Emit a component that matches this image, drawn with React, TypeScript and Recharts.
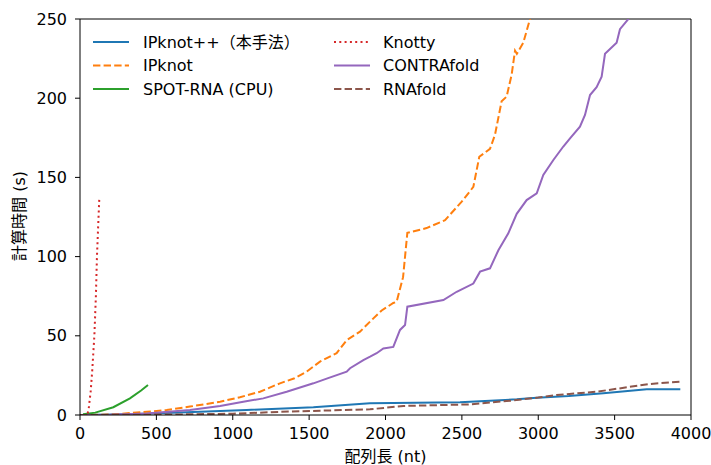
import React from 'react';
import { LineChart, Line, XAxis, YAxis, ReferenceLine } from 'recharts';

const xTicks = [0, 500, 1000, 1500, 2000, 2500, 3000, 3500, 4000];
const yTicks = [0, 50, 100, 150, 200, 250];

const ipknotPP = [
  [0, 0], [300, 0.5], [655, 1.5], [1091, 3.2], [1528, 4.9], [1898, 7.4], [2200, 7.7],
  [2488, 8], [2859, 9.9], [2990, 10.9], [3200, 12], [3426, 13.7], [3710, 16.2], [3930, 16.2],
];
const ipknot = [
  [0, 0], [200, 0.3], [437, 2], [567, 3.2], [720, 5.3], [917, 8.4], [1047, 11.2], [1178, 14.7],
  [1309, 20], [1400, 23], [1484, 27.4], [1571, 33.7], [1680, 39], [1746, 47.3], [1833, 52.6],
  [1899, 59], [1975, 66], [2051, 70.7], [2073, 71.5], [2115, 87], [2143, 115], [2269, 118],
  [2390, 123], [2499, 134.7], [2575, 144], [2614, 163], [2684, 168], [2717, 177], [2760, 198],
  [2793, 201], [2826, 215], [2848, 230], [2860, 228], [2902, 235], [2946, 250], [2990, 270],
];
const spotRna = [
  [20, 0.5], [100, 1.5], [218, 4.9], [327, 10.5], [400, 15.5], [445, 19],
];
const knotty = [
  [50, 1], [57, 4], [70, 15], [80, 28], [94, 50], [104, 75], [111, 100], [118, 117], [126, 136],
];
const contrafold = [
  [0, 0], [200, 0.2], [437, 1], [720, 3.2], [917, 5.7], [1069, 8.4], [1200, 10.5], [1353, 14.7],
  [1528, 20], [1615, 23], [1746, 27.4], [1768, 29.5], [1855, 34.7], [1899, 36.8], [1942, 39],
  [1986, 42], [2051, 43], [2095, 53.7], [2128, 56.8], [2143, 68.4], [2379, 72.6], [2466, 77.8],
  [2575, 83], [2619, 90.5], [2684, 92.6], [2739, 104], [2804, 114.7], [2859, 127], [2924, 135.7],
  [2990, 140], [3033, 151.5], [3099, 161], [3164, 169.5], [3208, 174.7], [3273, 182], [3306, 189.4],
  [3339, 202], [3382, 207], [3415, 213.6], [3437, 228], [3513, 235], [3535, 243.6], [3590, 250],
  [3650, 265],
];
const rnafold = [
  [0, 0], [600, 0.3], [1000, 0.8], [1309, 2], [1600, 2.8], [1898, 3.6], [2117, 5.7], [2553, 6.7],
  [2815, 9], [3000, 11], [3120, 12.6], [3382, 14.7], [3731, 19.6], [3930, 21],
];

const toRows = (arr: number[][]) => arr.map(([x, y]) => ({ x, y }));

const FONT = '"DejaVu Sans", "Noto Sans CJK JP", sans-serif';
const FS = 16;

const series = [
  { name: 'IPknot++（本手法）', data: ipknotPP, color: '#1f77b4', dash: undefined },
  { name: 'IPknot', data: ipknot, color: '#ff7f0e', dash: '7.4 3.2' },
  { name: 'SPOT-RNA (CPU)', data: spotRna, color: '#2ca02c', dash: undefined },
  { name: 'Knotty', data: knotty, color: '#d62728', dash: '2 3.3' },
  { name: 'CONTRAfold', data: contrafold, color: '#9467bd', dash: undefined },
  { name: 'RNAfold', data: rnafold, color: '#8c564b', dash: '7.4 3.2' },
];

const legendPos = [
  { lx: 93, tx: 143, y: 42 },
  { lx: 93, tx: 143, y: 65.5 },
  { lx: 93, tx: 143, y: 89 },
  { lx: 334, tx: 383, y: 42 },
  { lx: 334, tx: 383, y: 65.5 },
  { lx: 334, tx: 383, y: 89 },
];

export default function App() {
  return (
    <div style={{ position: 'absolute', left: 0, top: 0, width: 711, height: 465, background: '#fff', fontFamily: FONT }}>
      <LineChart width={711} height={465} margin={{ top: 19, right: 20, bottom: 20, left: 20 }}>
        <XAxis
          type="number"
          dataKey="x"
          domain={[0, 4000]}
          ticks={xTicks}
          allowDataOverflow
          height={30}
          tickSize={5}
          tickMargin={8}
          stroke="#000"
          tick={{ fill: '#000', fontSize: FS, fontFamily: FONT }}
        />
        <YAxis
          type="number"
          dataKey="y"
          domain={[0, 250]}
          ticks={yTicks}
          allowDataOverflow
          width={60}
          tickSize={5}
          tickMargin={8}
          stroke="#000"
          tick={{ fill: '#000', fontSize: FS, fontFamily: FONT }}
        />
        <ReferenceLine y={250} stroke="#000" strokeWidth={1} ifOverflow="visible" />
        <ReferenceLine x={4000} stroke="#000" strokeWidth={1} ifOverflow="visible" />
        {series.map((s) => (
          <Line
            key={s.name}
            data={toRows(s.data)}
            dataKey="y"
            name={s.name}
            type="linear"
            stroke={s.color}
            strokeWidth={2}
            strokeDasharray={s.dash}
            dot={false}
            activeDot={false}
            isAnimationActive={false}
          />
        ))}
      </LineChart>
      <svg width={711} height={465} style={{ position: 'absolute', left: 0, top: 0, pointerEvents: 'none' }}>
        {series.map((s, i) => {
          const p = legendPos[i];
          return (
            <g key={s.name}>
              <line x1={p.lx} x2={p.lx + 36} y1={p.y} y2={p.y} stroke={s.color} strokeWidth={2} strokeDasharray={s.dash} />
              <text x={p.tx} y={p.y} dominantBaseline="central" fontSize={FS} fontFamily={FONT} fill="#000">{s.name}</text>
            </g>
          );
        })}
        <text x={385.5} y={456} textAnchor="middle" dominantBaseline="central" fontSize={FS} fontFamily={FONT} fill="#000">配列長 (nt)</text>
        <text x={19} y={216} textAnchor="middle" dominantBaseline="central" fontSize={FS} fontFamily={FONT} fill="#000" transform="rotate(-90 19 216)">計算時間 (s)</text>
      </svg>
    </div>
  );
}
